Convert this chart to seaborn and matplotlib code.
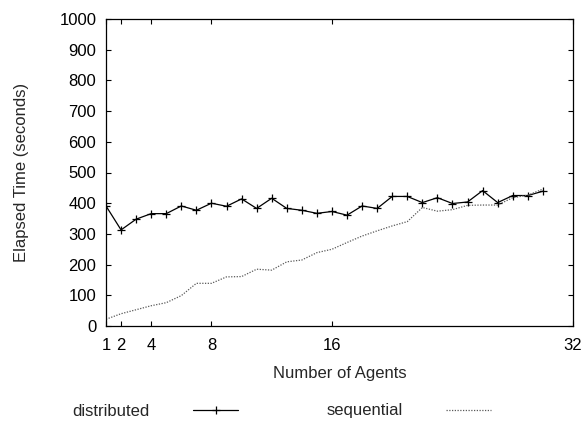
import matplotlib
matplotlib.use("Agg")
import matplotlib.pyplot as plt
import seaborn as sns
import pandas as pd

agents = list(range(1, 31))
distributed = [391, 313, 348, 366, 366, 391, 377, 400, 390, 414,
               383, 416, 383, 377, 367, 373, 361, 391, 383, 422,
               422, 402, 418, 399, 404, 441, 402, 425, 425, 439]
sequential = [22, 40, 53, 66, 76, 99, 139, 139, 160, 161,
              185, 182, 209, 215, 239, 250, 272, 293, 310, 326,
              340, 386, 374, 379, 393, 394, 394, 418, 426, 446]
x_ticks = [1, 2, 4, 8, 16, 32]
y_ticks = list(range(0, 1001, 100))

sns.set_style("ticks")
plt.rcParams['font.family'] = ['Liberation Sans', 'DejaVu Sans']
FS = 12
plt.rcParams['font.size'] = FS

df = pd.DataFrame({"agents": agents, "distributed": distributed, "sequential": sequential})

fig = plt.figure(figsize=(5.85, 4.21), dpi=100)
ax = fig.add_axes([106/585, 1 - 326/421, (573-106)/585, (326-19)/421])

sns.lineplot(data=df, x="agents", y="distributed", ax=ax, color="black",
             linewidth=0.9, marker="+", markersize=5.5, markeredgewidth=0.9,
             markeredgecolor="black", label="distributed")
sns.lineplot(data=df, x="agents", y="sequential", ax=ax, color="0.35",
             linewidth=0.9, linestyle=(0, (1, 1.2)), label="sequential")

ax.set_xlim(1, 32)
ax.set_ylim(0, 1000)
ax.set_xticks(x_ticks)
ax.set_xticklabels([str(t) for t in x_ticks])
ax.set_yticks(y_ticks)
ax.tick_params(direction="in", length=3.6, width=0.8, top=True, right=True,
               labelsize=FS, colors="black")
ax.tick_params(axis="x", pad=9)
ax.tick_params(axis="y", pad=7)
for s in ax.spines.values():
    s.set_linewidth(0.9)
    s.set_color("black")

ax.set_xlabel("Number of Agents", fontsize=FS, labelpad=9)
ax.set_ylabel("Elapsed Time (seconds)", fontsize=FS, labelpad=22)

handles, labels = ax.get_legend_handles_labels()
ax.get_legend().remove()
fig.legend(handles, labels, loc="center", bbox_to_anchor=(282/585, 10/421),
           ncol=2, frameon=False, markerfirst=False, fontsize=FS,
           handlelength=2.7, handletextpad=2.6, columnspacing=5.3)

fig.savefig("out.png", dpi=100)
